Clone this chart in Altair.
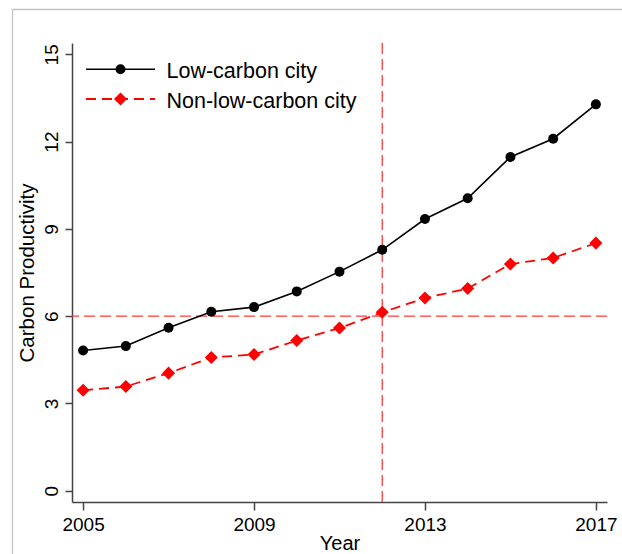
import altair as alt
import pandas as pd

# Carbon productivity by year for pilot and non-pilot cities
years = [2005, 2006, 2007, 2008, 2009, 2010, 2011, 2012, 2013, 2014, 2015, 2016, 2017]
low_carbon = [4.82, 4.97, 5.60, 6.15, 6.31, 6.85, 7.53, 8.28, 9.34, 10.05, 11.47, 12.10, 13.28]
non_low_carbon = [3.45, 3.58, 4.04, 4.58, 4.68, 5.16, 5.59, 6.13, 6.62, 6.95, 7.79, 8.00, 8.51]
series_names = ["Low-carbon city", "Non-low-carbon city"]

x_ticks = [2005, 2009, 2013, 2017]
y_ticks = [0, 3, 6, 9, 12, 15]
ref_year = [2012]
ref_value = [6]

FONT = "Liberation Sans"
W, H = 535, 459

low_df = pd.DataFrame({"year": years, "value": low_carbon})
non_df = pd.DataFrame({"year": years, "value": non_low_carbon})

x_scale = alt.Scale(domain=[2004.74, 2017.26], nice=False, zero=False)
y_scale = alt.Scale(domain=[-0.39, 15.39], nice=False, zero=False)

x_axis = alt.Axis(
    values=x_ticks, format="d", title="Year", grid=False,
    domainColor="#444", domainWidth=1.5, tickColor="#444", tickWidth=1.5,
    tickSize=8, labelPadding=5, labelFontSize=19, labelFont=FONT, labelColor="#000",
    titleFont=FONT, titleFontSize=20, titleFontWeight="normal", titleColor="#000",
    titleX=W / 2, titleY=47, titleBaseline="alphabetic", titleAlign="center",
)
y_axis = alt.Axis(
    values=y_ticks, title="Carbon Productivity", grid=False,
    domainColor="#444", domainWidth=1.5, tickColor="#444", tickWidth=1.5,
    tickSize=7, labelPadding=7.5, labelAngle=-90, labelAlign="center",
    labelBaseline="alphabetic", labelFontSize=19, labelFont=FONT, labelColor="#000",
    titleFont=FONT, titleFontSize=20.5, titleFontWeight="normal", titleColor="#000",
    titleAngle=270, titleX=-38.5, titleY=H / 2, titleBaseline="alphabetic", titleAlign="center",
)

X = alt.X("year:Q", scale=x_scale, axis=x_axis)
Y = alt.Y("value:Q", scale=y_scale, axis=y_axis)

# outer frame, left and top edges visible
frame = alt.Chart(alt.Data(values=[{}])).mark_rect(
    fillOpacity=0, stroke="#c4c4c4", strokeWidth=1.3
).encode(
    x=alt.value(-59.5), y=alt.value(-33.5), x2=alt.value(800), y2=alt.value(800)
)

vline = alt.Chart(pd.DataFrame({"year": ref_year})).mark_rule(
    color="#ff3b3b", strokeWidth=1.3, strokeDash=[11, 5]
).encode(x=alt.X("year:Q", scale=x_scale, axis=x_axis))

hline = alt.Chart(pd.DataFrame({"value": ref_value})).mark_rule(
    color="#ff3b3b", strokeWidth=1.3, strokeDash=[11, 5]
).encode(y=alt.Y("value:Q", scale=y_scale, axis=y_axis))

low_line = alt.Chart(low_df).mark_line(color="black", strokeWidth=1.6).encode(x=X, y=Y)
low_pts = alt.Chart(low_df).mark_point(
    shape="circle", filled=True, color="black", size=100, opacity=1
).encode(x=X, y=Y)

non_line = alt.Chart(non_df).mark_line(
    color="#ff0000", strokeWidth=1.8, strokeDash=[10, 6]
).encode(x=X, y=Y)
non_pts = alt.Chart(non_df).mark_point(
    shape="diamond", filled=True, color="#ff0000", size=170, opacity=1
).encode(x=X, y=Y)

# legend drawn in pixel space
one = alt.Data(values=[{}])
leg_low_line = alt.Chart(one).mark_rule(color="black", strokeWidth=1.6).encode(
    x=alt.value(14), x2=alt.value(83), y=alt.value(26.3)
)
leg_low_pt = alt.Chart(one).mark_point(
    shape="circle", filled=True, color="black", size=100, opacity=1
).encode(x=alt.value(48.5), y=alt.value(26.3))
leg_low_txt = alt.Chart(one).mark_text(
    text=series_names[0], align="left", baseline="alphabetic",
    font=FONT, fontSize=21.5, color="#000"
).encode(x=alt.value(94.5), y=alt.value(35.3))

leg_non_line = alt.Chart(one).mark_rule(
    color="#ff0000", strokeWidth=1.8, strokeDash=[10, 6]
).encode(x=alt.value(14), x2=alt.value(83), y=alt.value(56))
leg_non_pt = alt.Chart(one).mark_point(
    shape="diamond", filled=True, color="#ff0000", size=170, opacity=1
).encode(x=alt.value(48.5), y=alt.value(56))
leg_non_txt = alt.Chart(one).mark_text(
    text=series_names[1], align="left", baseline="alphabetic",
    font=FONT, fontSize=21.5, color="#000"
).encode(x=alt.value(94.5), y=alt.value(65.3))

chart = alt.layer(
    frame, vline, hline, low_line, non_line, low_pts, non_pts,
    leg_low_line, leg_low_pt, leg_low_txt, leg_non_line, leg_non_pt, leg_non_txt,
).properties(
    width=W, height=H,
    autosize=alt.AutoSizeParams(type="none"),
    padding={"left": 72, "top": 43, "right": 15, "bottom": 52},
    background="white",
).configure_view(strokeWidth=0)

chart.save("out.html", embed_options={"renderer": "svg", "actions": False})
